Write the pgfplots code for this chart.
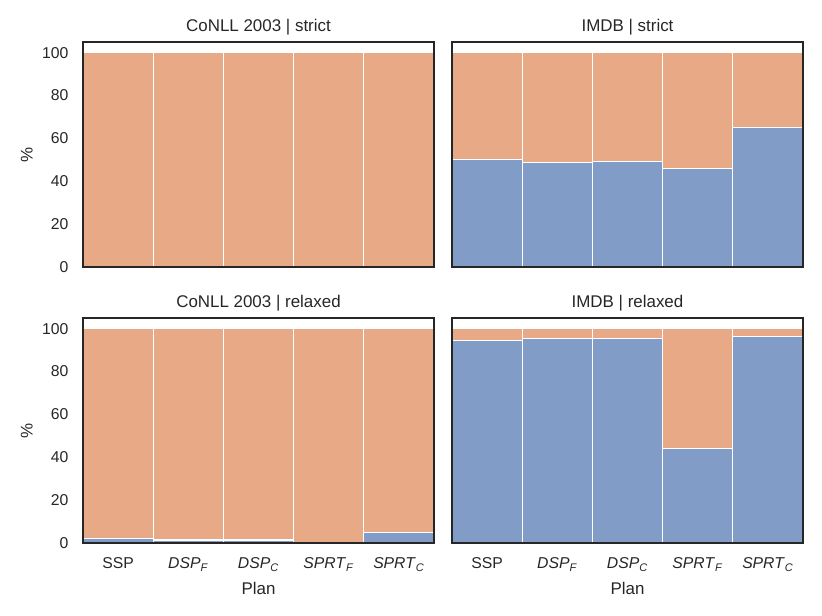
\documentclass[border=0pt]{standalone}
\usepackage{pgfplots}
\usepackage{pgfplotstable}
\pgfplotsset{compat=1.18}
\usepackage{fontspec}
\setmainfont{Liberation Sans}

\definecolor{sbblue}{HTML}{829CC8}
\definecolor{sborange}{HTML}{E7A986}
\definecolor{sbdark}{HTML}{262626}

% x: plan index, lo: lower (blue) share, hi: upper (orange) share, in %
\pgfplotstableread{
x lo hi
0 0 100
1 0 100
2 0 100
3 0 100
4 0 100
}\conllstrict
\pgfplotstableread{
x lo hi
0 50.3 49.7
1 48.9 51.1
2 49.2 50.8
3 45.8 54.2
4 65.0 35.0
}\imdbstrict
\pgfplotstableread{
x lo hi
0 2.0 98.0
1 1.4 98.6
2 1.4 98.6
3 0.0 100
4 4.7 95.3
}\conllrelaxed
\pgfplotstableread{
x lo hi
0 94.5 5.5
1 95.5 4.5
2 95.4 4.6
3 44.2 55.8
4 96.5 3.5
}\imdbrelaxed

\pgfplotsset{
  panel/.style={
    scale only axis,
    width=263.25pt, height=168.75pt,
    anchor=south west,
    xmin=-0.5, xmax=4.5, ymin=0, ymax=105,
    ybar stacked, bar width=1,
    axis on top,
    axis line style={sbdark, line width=1pt},
    tick style={draw=none},
    xtick={0,...,4}, ytick={0,20,...,100},
    /pgf/number format/assume math mode=true,
    tick label style={font=\fontsize{11.8}{13}\selectfont, text=sbdark},
    xticklabel style={yshift=-7.5pt},
    yticklabel style={xshift=-7.5pt},
    title style={font=\fontsize{12.7}{14}\selectfont, text=sbdark, yshift=-4pt},
    label style={font=\fontsize{12.7}{14}\selectfont, text=sbdark},
    ylabel style={at={(axis description cs:-0.16,0.5)}, anchor=center},
    xlabel style={at={(axis description cs:0.5,-0.2)}, anchor=center},
    xticklabels={},
  },
  plans/.style={
    xticklabels={SSP, \textit{DSP}\textsubscript{\textit{F}}, \textit{DSP}\textsubscript{\textit{C}},
      \textit{SPRT}\textsubscript{\textit{F}}, \textit{SPRT}\textsubscript{\textit{C}}},
    xlabel={Plan},
  },
  lowbar/.style={fill=sbblue, draw=white, line width=0.8pt},
  highbar/.style={fill=sborange, draw=white, line width=0.8pt},
}

\begin{document}
\begin{tikzpicture}
\useasboundingbox (0,0) rectangle (616.5pt,462pt);

\begin{axis}[panel, at={(62.25pt,261.75pt)}, title={CoNLL 2003 | strict}, ylabel={\%}]
\addplot[lowbar] table[x=x, y=lo] {\conllstrict};
\addplot[highbar] table[x=x, y=hi] {\conllstrict};
\end{axis}

\begin{axis}[panel, at={(339pt,261.75pt)}, title={IMDB | strict}, yticklabels={}]
\addplot[lowbar] table[x=x, y=lo] {\imdbstrict};
\addplot[highbar] table[x=x, y=hi] {\imdbstrict};
\end{axis}

\begin{axis}[panel, plans, at={(62.25pt,54.75pt)}, title={CoNLL 2003 | relaxed}, ylabel={\%}]
\addplot[lowbar] table[x=x, y=lo] {\conllrelaxed};
\addplot[highbar] table[x=x, y=hi] {\conllrelaxed};
\end{axis}

\begin{axis}[panel, plans, at={(339pt,54.75pt)}, title={IMDB | relaxed}, yticklabels={}]
\addplot[lowbar] table[x=x, y=lo] {\imdbrelaxed};
\addplot[highbar] table[x=x, y=hi] {\imdbrelaxed};
\end{axis}
\end{tikzpicture}
\end{document}
